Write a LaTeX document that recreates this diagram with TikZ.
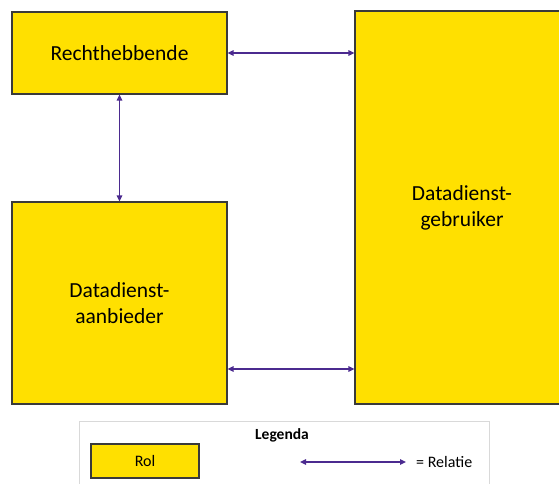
\documentclass[tikz,border=0pt]{standalone}
\usepackage{fontspec}
\setmainfont{Carlito}
\usetikzlibrary{arrows.meta}
\definecolor{rolfill}{HTML}{FFE000}
\definecolor{rolline}{HTML}{3A3A3A}
\definecolor{relcol}{HTML}{4B2A8F}
\definecolor{legline}{HTML}{D9D9D9}
\tikzset{
  rol/.style={draw=rolline, line width=1.1pt, fill=rolfill, inner sep=0pt, align=center,
    font=\fontsize{21.5}{26}\selectfont},
  relatie/.style={draw=relcol, line width=1.3pt, {Triangle[width=5.5pt,length=6pt]}-{Triangle[width=5.5pt,length=6pt]}},
  legtxt/.style={inner sep=0pt, font=\fontsize{16}{18}\selectfont}
}
\begin{document}
\begin{tikzpicture}[x=1pt,y=-1pt]
\useasboundingbox (0,0) rectangle (559,483);
\clip (0,0) rectangle (559,483);
\node[rol, minimum width=215pt, minimum height=82pt] (recht) at (119.5,53) {Rechthebbende};
\node[rol, minimum width=215pt, minimum height=202pt] (aanb) at (119.5,303) {Datadienst-\\aanbieder};
\node[rol, minimum width=214pt, minimum height=393pt] (gebr) at (462,207.5) {Datadienst-\\gebruiker};
\draw[relatie] (recht.east) -- (recht.east -| gebr.west);
\draw[relatie] (recht.south) -- (aanb.north);
\draw[relatie] (aanb.east |- 0,369) -- (gebr.west |- 0,369);
% legend
\node[draw=legline, line width=1pt, minimum width=410pt, minimum height=80pt, inner sep=0pt] (leg) at (284.5,461) {};
\node[legtxt, font=\fontsize{15.5}{18}\selectfont\bfseries] (legt) at (282,435) {Legenda};
\node[rol, minimum width=108pt, minimum height=34pt, font=\fontsize{16}{18}\selectfont] (legrol) at (145,461) {Rol};
\coordinate (la) at (300,462);
\coordinate (lb) at (406,462);
\draw[relatie] (la) -- (lb);
\node[legtxt, anchor=west] (legrel) at (416,462) {= Relatie};
\end{tikzpicture}
\end{document}
